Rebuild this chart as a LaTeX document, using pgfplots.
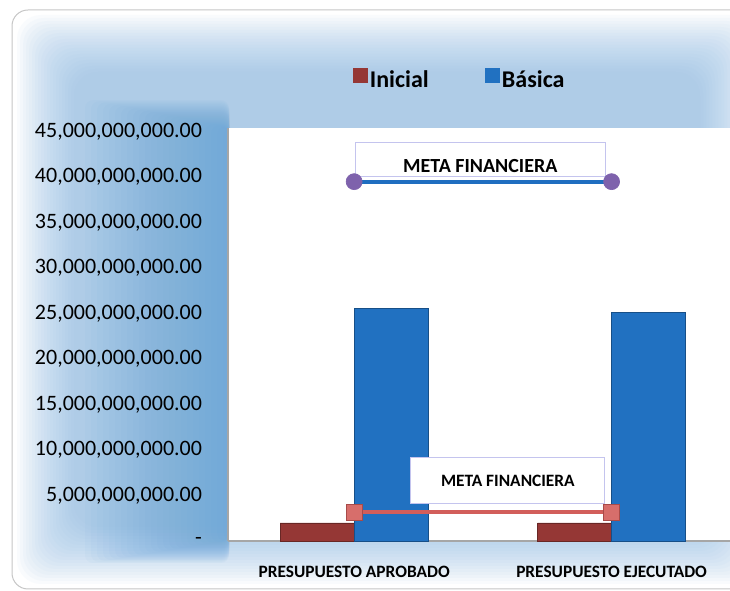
\documentclass[border=0pt]{standalone}
\usepackage{pgfplots}
\pgfplotsset{compat=1.18}
\usepackage{fontspec}
\setmainfont{Carlito}
\definecolor{inic}{HTML}{953735}
\definecolor{basi}{HTML}{2171C1}
\definecolor{metaB}{HTML}{1F6EC0}
\definecolor{metaR}{HTML}{D25E5B}
\definecolor{purp}{HTML}{7E62AC}
\definecolor{glow}{HTML}{8DBAE4}
\definecolor{deep}{HTML}{5F9FD8}
\begin{document}
\begin{tikzpicture}[x=0.75pt,y=0.75pt]
\path[use as bounding box] (0,0) rectangle (730,591);
\begin{scope}
\clip (0,0) rectangle (730,591);
\fill[white, rounded corners=12pt] (12,2) rectangle (748,581);
\foreach \i in {1,...,20} {
  \fill[glow, opacity=0.05, rounded corners=18pt] ({14+3*\i},{4+3*\i}) rectangle ({760-3*\i},{579-3*\i});
}
\foreach \i in {1,...,24} {
  \fill[deep, opacity=0.045, rounded corners=6pt] ({229-6*\i},{52-1*\i}) rectangle (229,{462+1.2*\i});
}
\draw[gray!45, line width=0.75pt, rounded corners=12pt] (12,2) rectangle (748,581);
\end{scope}
\begin{axis}[
  at={(171pt,37.5pt)}, anchor=south west,
  scale only axis, width=376.5pt, height=309.75pt,
  xmin=-0.49, xmax=1.46, ymin=0, ymax=45.4e9,
  xtick={0,1},
  xticklabels={PRESUPUESTO APROBADO, PRESUPUESTO EJECUTADO},
  xticklabel style={font=\fontsize{13}{15}\selectfont\bfseries, yshift=-15pt},
  ytick={0,5e9,10e9,15e9,20e9,25e9,30e9,35e9,40e9,45e9},
  yticklabels={-, {5,000,000,000.00}, {10,000,000,000.00}, {15,000,000,000.00}, {20,000,000,000.00}, {25,000,000,000.00}, {30,000,000,000.00}, {35,000,000,000.00}, {40,000,000,000.00}, {45,000,000,000.00}},
  yticklabel style={font=\fontsize{16.5}{18}\selectfont, xshift=-16pt},
  scaled y ticks=false,
  major tick length=0pt,
  axis x line*=bottom, axis y line*=left,
  axis line style={gray!70, line width=1pt},
  axis background/.style={fill=white},
  clip=false,
  legend style={at={(0.462,1.116)}, anchor=center, draw=none, fill=none,
    font=\fontsize{18}{20}\selectfont\bfseries,
    /tikz/every even column/.append style={column sep=40pt}},
  legend columns=2,
]
\addplot[ybar, bar width=55.5pt, bar shift=-27.75pt, fill=inic, draw=inic!70!black,
  legend image code/.code={\fill[inic] (-6pt,-1pt) rectangle (4.5pt,9.5pt);}]
  coordinates {(0,2.0e9) (1,2.0e9)};
\addlegendentry{Inicial}
\addplot[ybar, bar width=55.5pt, bar shift=27.75pt, fill=basi, draw=basi!70!black,
  legend image code/.code={\fill[basi] (-6pt,-1pt) rectangle (4.5pt,9.5pt);}]
  coordinates {(0,25.55e9) (1,25.1e9)};
\addlegendentry{Básica}
\node[draw=gray!45!blue!30, fill=white, minimum width=188pt, minimum height=25.5pt, inner sep=0pt] at (axis cs:0.49,41.96e9) {};
\node[font=\fontsize{15}{17}\selectfont\bfseries] at (axis cs:0.49,41.19e9) {META FINANCIERA};
\node[draw=gray!45!blue!30, fill=white, minimum width=146pt, minimum height=34pt, inner sep=0pt] at (axis cs:0.595,6.66e9) {};
\node[font=\fontsize{13}{15}\selectfont\bfseries] at (axis cs:0.597,6.61e9) {META FINANCIERA};
\addplot[metaB, line width=3pt, mark=*, mark size=6pt, mark options={fill=purp, draw=purp, line width=0.5pt}, forget plot]
  coordinates {(0,39.5e9) (1,39.5e9)};
\addplot[metaR, line width=3.5pt, mark=square*, mark size=6pt, mark options={fill=metaR!90!white, draw=metaR!80!black, line width=0.5pt}, forget plot]
  coordinates {(0,3.2e9) (1,3.2e9)};
\end{axis}
\end{tikzpicture}
\end{document}
